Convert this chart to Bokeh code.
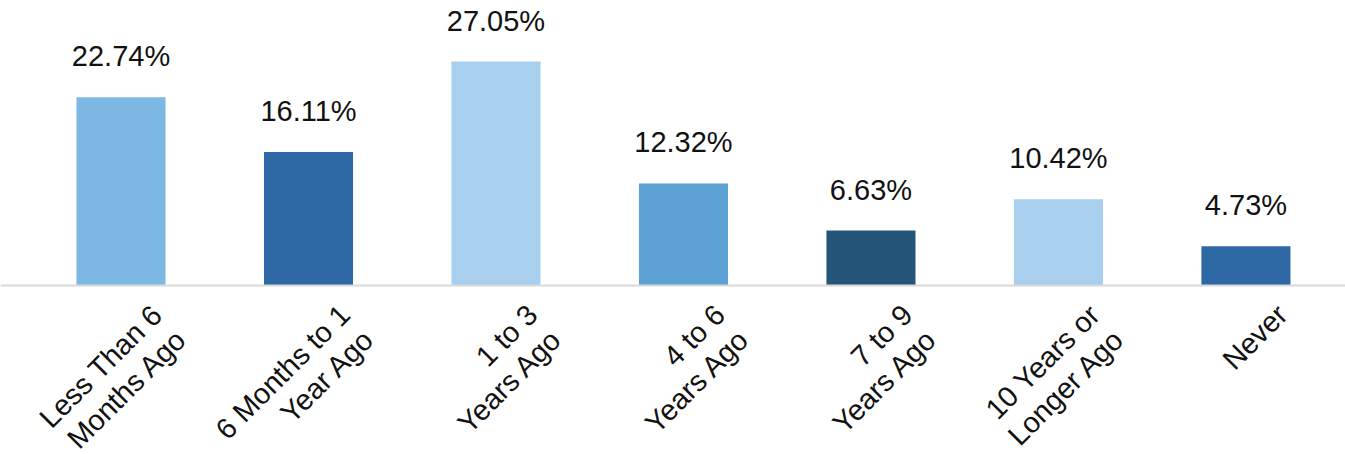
import math
from bokeh.plotting import figure
from bokeh.models import ColumnDataSource, Range1d, Span
from bokeh.core.properties import value
from bokeh.embed import file_html
from bokeh.resources import INLINE

categories = ["Less Than 6\nMonths Ago", "6 Months to 1\nYear Ago", "1 to 3\nYears Ago",
              "4 to 6\nYears Ago", "7 to 9\nYears Ago", "10 Years or\nLonger Ago", "Never"]
values = [22.74, 16.11, 27.05, 12.32, 6.63, 10.42, 4.73]
colors = ["#7db8e4", "#2d68a4", "#a9cfee", "#5ca2d5", "#255579", "#a9cfee", "#2d68a4"]

idx = list(range(len(categories)))
src = ColumnDataSource(dict(
    x=idx, top=values, color=colors, cat=categories,
    lbl=[f"{v:.2f}%" for v in values], zero=[0] * len(values),
))

p = figure(width=1345, height=454, output_backend="svg", toolbar_location=None,
           x_range=Range1d(-0.6427, 6.531), y_range=Range1d(-20.41, 34.42),
           min_border=0, min_border_left=0, min_border_right=0,
           min_border_top=0, min_border_bottom=0)
p.xaxis.visible = False
p.yaxis.visible = False
p.grid.visible = False
p.outline_line_color = None
p.background_fill_color = "white"
p.border_fill_color = "white"

p.vbar(x="x", top="top", bottom=0, width=0.475, fill_color="color", line_color=None, source=src)
p.add_layout(Span(location=0, dimension="width", line_color="#d9d9d9", line_width=2))

font = value("Liberation Sans")
p.text(x="x", y="top", text="lbl", source=src, text_font=font, text_font_size="29px",
       text_color="#111111", text_align="center", text_baseline="alphabetic", y_offset=-41)

p.text(x="x", y="zero", text="cat", source=src, text_font=font, text_font_size="29px",
       text_color="#111111", text_align="right", text_baseline="top", angle=math.pi / 4,
       x_offset=25, y_offset=13, text_line_height=1.07)

open("out.html", "w").write(file_html(p, INLINE))
